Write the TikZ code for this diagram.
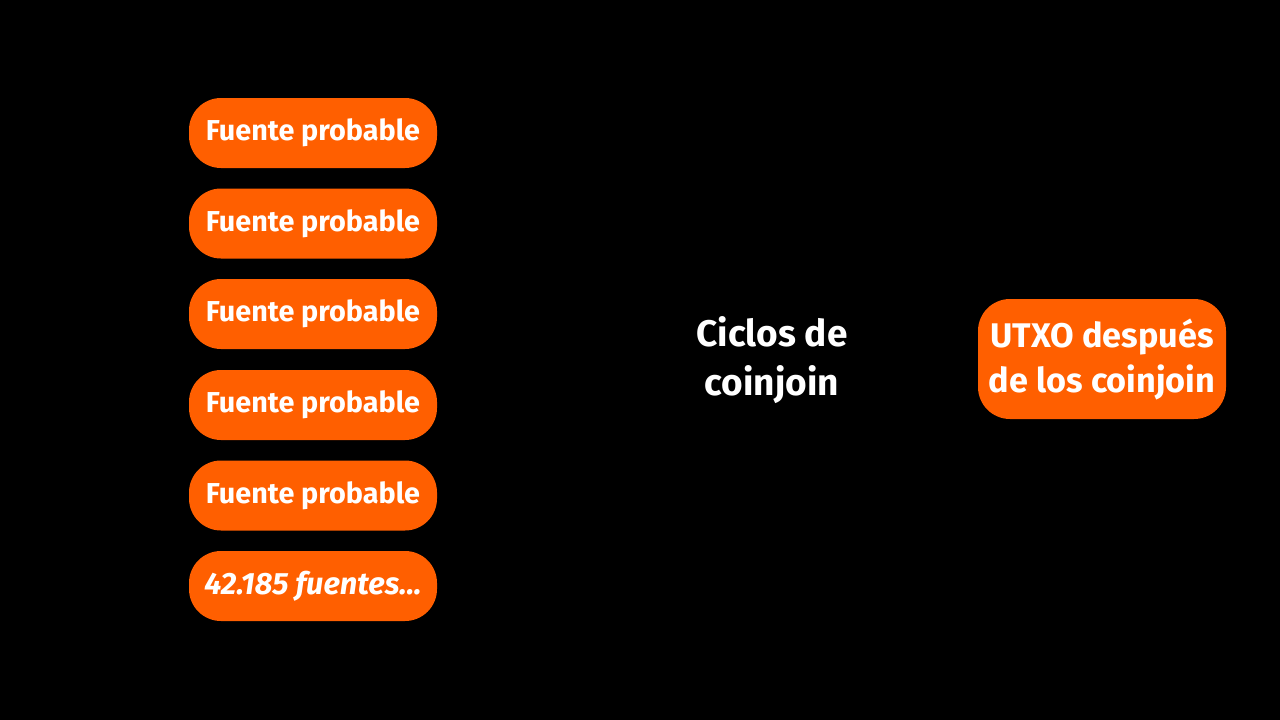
\documentclass[tikz,border=0pt]{standalone}
\usepackage{fontspec}
\setmainfont{Fira Sans}[UprightFont=* Bold, BoldFont=* Bold, ItalicFont=* Bold Italic]
\definecolor{orng}{HTML}{FF5F00}
\begin{document}
\begin{tikzpicture}[x=1pt,y=-1pt,
  src/.style={fill=orng, rounded corners=32pt, minimum width=248pt, minimum height=70pt, text=white, font=\fontsize{28.8}{30}\selectfont, inner sep=0pt},
  res/.style={fill=orng, rounded corners=32pt, minimum width=248pt, minimum height=120pt, text=white, align=center, font=\fontsize{34.2}{45}\selectfont, inner sep=0pt},
  lab/.style={text=white, align=center, font=\fontsize{37}{49}\selectfont}]
\fill[black] (0,0) rectangle (1280,720);
\useasboundingbox (0,0) rectangle (1280,720);
\node[src] (s1) at (313,133) {Fuente probable};
\node[src] (s2) at (313,223.5) {Fuente probable};
\node[src] (s3) at (313,314) {Fuente probable};
\node[src] (s4) at (313,405) {Fuente probable};
\node[src] (s5) at (313,495.5) {Fuente probable};
\node[src, font=\fontsize{30.8}{30}\selectfont] (s6) at (313,586) {\itshape 42.185 fuentes...};
\node[lab] (c) at (772,360) {Ciclos de\\coinjoin};
\node[res] (u) at (1102,359) {UTXO después\\de los coinjoin};
\end{tikzpicture}
\end{document}
